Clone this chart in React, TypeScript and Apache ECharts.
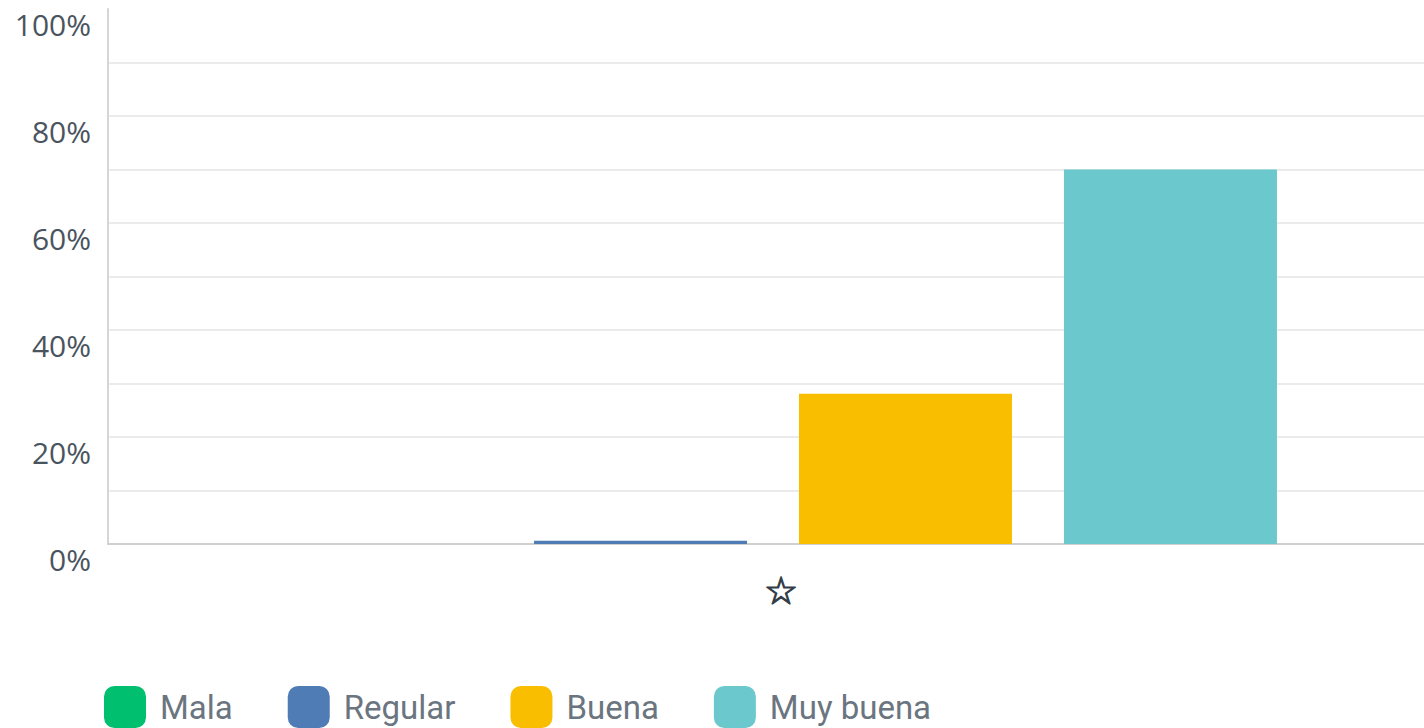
import React, { useEffect, useRef } from "react";
import * as echarts from "echarts";

const categories = ["☆"];
const seriesNames = ["Mala", "Regular", "Buena", "Muy buena"];
const seriesColors = ["#00bf6f", "#507cb6", "#f9be00", "#6bc8cd"];
const seriesValues = [[0], [0.6], [28.1], [70]];
const yTicks = [0, 20, 40, 60, 80, 100];

export default function App() {
  const ref = useRef<HTMLDivElement>(null);
  useEffect(() => {
    document.body.style.margin = "0";
    const chart = echarts.init(ref.current!, null, { renderer: "svg" });
    const gridColors = [
      "#ebebeb", "#ebebeb", "#ebebeb", "#ebebeb", "#ebebeb",
      "#ebebeb", "#ebebeb", "#ebebeb", "#ebebeb", "#ebebeb", "rgba(0,0,0,0)",
    ];
    chart.setOption({
      animation: false,
      backgroundColor: "#ffffff",
      grid: {
        left: 108,
        width: 1330,
        top: 9,
        height: 535,
        containLabel: false,
        outerBoundsMode: "none",
      },
      legend: {
        left: 99,
        top: 681,
        itemWidth: 42,
        itemHeight: 42,
        itemGap: 55,
        icon: "roundRect",
        data: seriesNames,
        textStyle: {
          fontFamily: "Roboto",
          fontSize: 33,
          color: "#6b7580",
          padding: [0, 0, 0, 9],
        },
      },
      xAxis: {
        type: "category",
        data: categories,
        axisLine: { show: true, lineStyle: { color: "#d0d0d0", width: 2 } },
        axisTick: { show: false },
        axisLabel: {
          fontFamily: "DejaVu Sans",
          fontSize: 38,
          color: "#333e48",
          textBorderColor: "#333e48",
          textBorderWidth: 1.2,
          margin: 28,
          padding: [0, 0, 0, 16],
        },
      },
      yAxis: {
        type: "value",
        min: 0,
        max: 100,
        interval: 10,
        axisLine: { show: true, lineStyle: { color: "#d6d6d6", width: 2 } },
        axisTick: { show: false },
        splitLine: { show: true, lineStyle: { color: gridColors, width: 2 } },
        axisLabel: {
          fontFamily: "Open Sans",
          fontSize: 30,
          color: "#4a545e",
          margin: 17,
          verticalAlign: "top",
          formatter: (v: number) => (yTicks.includes(v) ? v + "%" : ""),
        },
      },
      series: seriesNames.map((name, i) => ({
        name,
        type: "bar",
        data: seriesValues[i],
        barWidth: 213,
        barGap: "24.4%",
        itemStyle: { color: seriesColors[i] },
      })),
    });
    return () => chart.dispose();
  }, []);
  return (
    <div
      ref={ref}
      style={{ position: "absolute", left: 0, top: 0, width: 1424, height: 728 }}
    />
  );
}
